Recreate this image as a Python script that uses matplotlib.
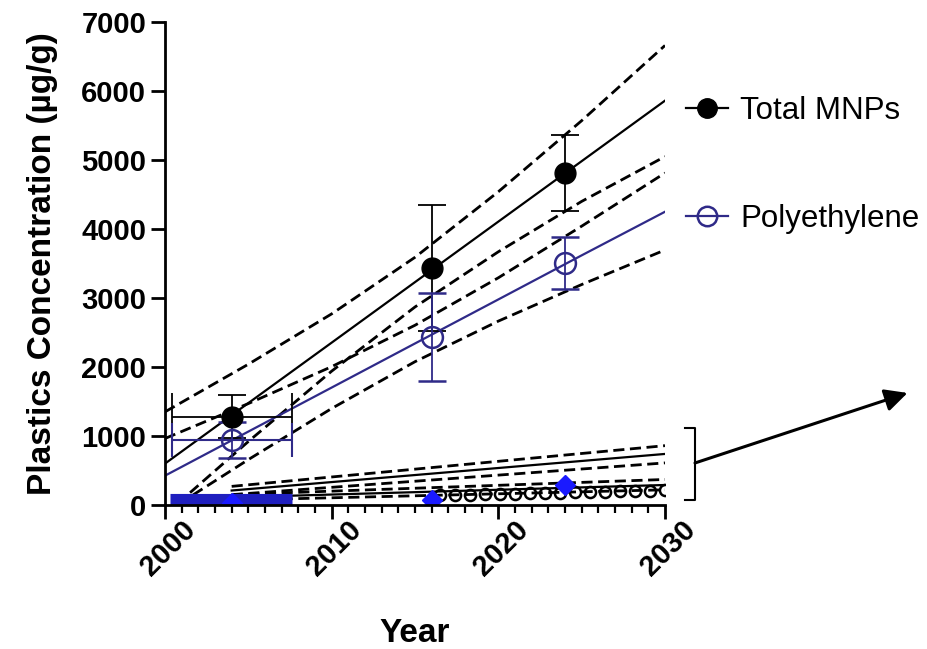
import matplotlib
matplotlib.use("Agg")
import matplotlib.pyplot as plt
import matplotlib.transforms as mtransforms
from matplotlib.lines import Line2D
from matplotlib.ticker import MultipleLocator

plt.rcParams['font.family'] = ['Liberation Sans', 'DejaVu Sans']

# ---------------- data ----------------
years = [2004, 2016, 2024]
total_mnps = [1280, 3435, 4812]
total_err = [315, 913, 545]
polyethylene = [942, 2435, 3507]
pe_err = [260, 640, 370]
first_xerr = 3.6

band_years = [2000, 2005, 2010, 2015, 2020, 2025, 2030]
total_fit = [600, 1477, 2353, 3230, 4107, 4983, 5860]
total_upper = [1350, 2040, 2770, 3590, 4540, 5570, 6660]
total_lower = [-140, 920, 1940, 2870, 3670, 4400, 5050]
pe_fit = [425, 1064, 1702, 2341, 2979, 3618, 4250]
pe_upper = [964, 1470, 2005, 2605, 3293, 4041, 4812]
pe_lower = [-114, 658, 1399, 2077, 2665, 3195, 3696]

# small-scale (inset preview) series near the bottom
mini_years = [2004, 2030]
mini_total_upper = [270, 860]
mini_total_fit = [210, 740]
mini_total_lower = [150, 610]
mini_pe_upper = [150, 370]
mini_pe_fit = [110, 290]
mini_pe_lower = [70, 220]
circle_years = [2016.5, 2017.4, 2018.3, 2019.2, 2020.1, 2021.0, 2021.9, 2022.8,
                2023.7, 2024.6, 2025.5, 2026.4, 2027.3, 2028.2, 2029.1, 2030.0]
circle_vals = [140, 145, 150, 155, 160, 165, 170, 175,
               180, 185, 190, 195, 200, 205, 210, 215]
diamond_years = [2004, 2016, 2024]
diamond_vals = [30, 70, 290]
blue_bar_years = [2000.3, 2007.6]
blue_bar_vals = [85, 85]

xticks = [2000, 2010, 2020, 2030]
yticks = [0, 1000, 2000, 3000, 4000, 5000, 6000, 7000]

PE_COLOR = '#2f2a88'
DIAMOND_BLUE = '#1a1aff'

# ---------------- figure ----------------
fig = plt.figure(figsize=(9.28, 6.49), dpi=100)
ax = fig.add_axes([165/928, 1-505/649, 500/928, 483/649])

dash = (0, (4, 2))

# bands and fits
ax.plot(band_years, total_upper, color='black', lw=2.0, ls=dash)
ax.plot(band_years, total_lower, color='black', lw=2.0, ls=dash)
ax.plot(band_years, total_fit, color='black', lw=1.6)
ax.plot(band_years, pe_upper, color='black', lw=2.0, ls=dash)
ax.plot(band_years, pe_lower, color='black', lw=2.0, ls=dash)
ax.plot(band_years, pe_fit, color=PE_COLOR, lw=1.6)

# small-scale lines
ax.plot(mini_years, mini_total_upper, color='black', lw=2.0, ls=dash)
ax.plot(mini_years, mini_total_fit, color='black', lw=1.6)
ax.plot(mini_years, mini_total_lower, color='black', lw=2.0, ls=dash)
ax.plot(mini_years, mini_pe_upper, color='black', lw=2.0, ls=dash)
ax.plot(mini_years, mini_pe_fit, color='black', lw=1.6)
ax.plot(mini_years, mini_pe_lower, color='black', lw=2.0, ls=dash)
ax.plot(circle_years, circle_vals, ls='none', marker='o', ms=8, mfc='none',
        mec='black', mew=1.8)
ax.plot(blue_bar_years, blue_bar_vals, color='#1f1fbf', lw=8, solid_capstyle='butt')
ax.plot(diamond_years, diamond_vals, ls='none', marker='D', ms=10, color=DIAMOND_BLUE)

# data points with error bars
ax.errorbar(years[:1], total_mnps[:1], xerr=first_xerr, fmt='none', ecolor='black',
            elinewidth=1.3, capsize=17, capthick=1.3)
ax.errorbar(years[:1], polyethylene[:1], xerr=first_xerr, fmt='none', ecolor=PE_COLOR,
            elinewidth=1.5, capsize=12, capthick=1.5)
ax.errorbar(years, total_mnps, yerr=total_err, fmt='o', color='black', ms=15,
            ecolor='black', elinewidth=1.3, capsize=10, capthick=1.3, zorder=5)
ax.errorbar(years, polyethylene, yerr=pe_err, fmt='o', color=PE_COLOR, ms=15,
            mfc='none', mec=PE_COLOR, mew=1.8, ecolor=PE_COLOR, elinewidth=1.3,
            capsize=10, capthick=1.3, zorder=5)

# axes styling
ax.set_xlim(2000, 2030)
ax.set_ylim(0, 7000)
ax.set_xticks(xticks)
ax.xaxis.set_minor_locator(MultipleLocator(1))
ax.set_yticks(yticks)
for s in ['top', 'right']:
    ax.spines[s].set_visible(False)
for s in ['left', 'bottom']:
    ax.spines[s].set_linewidth(2.0)
ax.tick_params(axis='both', which='major', length=10, width=2.0, labelsize=21)
ax.tick_params(axis='x', which='minor', length=6, width=1.6)
for lab in ax.get_yticklabels():
    lab.set_fontweight('bold')
offset = mtransforms.ScaledTranslation(16/100, 8/100, fig.dpi_scale_trans)
for lab in ax.get_xticklabels():
    lab.set_fontweight('bold')
    lab.set_rotation(45)
    lab.set_ha('right')
    lab.set_va('top')
    lab.set_rotation_mode('anchor')
    lab.set_transform(lab.get_transform() + offset)
ax.set_ylabel('Plastics Concentration (µg/g)', fontsize=24, fontweight='bold', labelpad=17)
ax.set_xlabel('Year', fontsize=24, fontweight='bold', labelpad=26)

# legend
handles = [
    Line2D([], [], color='black', lw=1.6, marker='o', ms=14, mfc='black', mec='black'),
    Line2D([], [], color=PE_COLOR, lw=1.6, marker='o', ms=14, mfc='none', mec=PE_COLOR, mew=1.8),
]
ax.legend(handles, ['Total MNPs', 'Polyethylene'], loc='upper left',
          bbox_to_anchor=(0.985, 0.905), frameon=False, fontsize=22.5,
          handlelength=1.35, handletextpad=0.4, labelspacing=2.5)

# bracket and arrow
ax.plot([1.04, 1.06, 1.06, 1.04], [0.159, 0.159, 0.01, 0.01], transform=ax.transAxes,
        color='black', lw=1.5, clip_on=False)
ax.annotate('', xy=(1.485, 0.232), xytext=(1.06, 0.087),
            xycoords='axes fraction', textcoords='axes fraction',
            arrowprops=dict(arrowstyle='-|>', color='black', lw=2.2,
                            mutation_scale=34, shrinkA=0, shrinkB=0))

fig.savefig('out.png', dpi=100, facecolor='white')
